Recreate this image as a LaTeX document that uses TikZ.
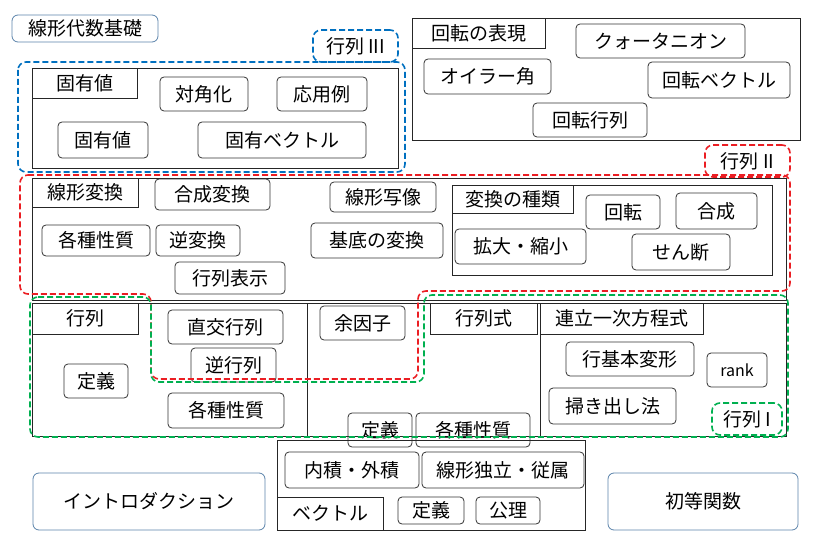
\documentclass[tikz,border=0pt]{standalone}
\usepackage{fontspec}
\setmainfont{Noto Sans CJK JP}
\definecolor{bdc}{RGB}{0,112,192}
\definecolor{tpc}{RGB}{90,130,170}
\definecolor{rdc}{RGB}{235,30,35}
\definecolor{gdc}{RGB}{0,176,80}
\begin{document}
\begin{tikzpicture}[x=1pt,y=-1pt,
  fnt/.style={font=\fontsize{19}{19}\selectfont},
  box/.style={fnt,draw=black!80,rounded corners=4pt,line width=0.8pt,inner sep=0pt},
  tab/.style={fnt,draw=black!85,line width=0.8pt,inner sep=0pt},
  frame/.style={draw=black!85,line width=0.8pt},
  topic/.style={fnt,draw=tpc,rounded corners=6pt,line width=0.8pt,inner sep=0pt},
  dsh/.style={fnt,dash pattern=on 6pt off 3pt,line width=1.6pt,rounded corners=8pt,inner sep=0pt},
  bd/.style={dsh,draw=bdc},
  rd/.style={dsh,draw=rdc},
  gd/.style={dsh,draw=gdc}]
\useasboundingbox (0,0) rectangle (813,548);
\def\bx#1#2#3#4#5#6{\node[#1,minimum width=#4-#2,minimum height=#5-#3] (#6) at ({(#2+#4)/2},{(#3+#5)/2})}
% top left
\bx{topic}{12}{15}{158}{42}{t0}{線形代数基礎};
% eigen
\draw[frame] (32,68) rectangle (398,168);
\bx{tab}{32}{68}{137}{98}{e0}{固有値};
\bx{box}{160}{77}{248}{111}{e1}{対角化};
\bx{box}{277}{77}{367}{111}{e2}{応用例};
\bx{box}{58}{122}{148}{158}{e3}{固有値};
\bx{box}{198}{122}{366}{158}{e4}{固有ベクトル};
\draw[bd] (18,62) rectangle (405,172);
\bx{bd}{313}{30}{398}{62}{m3}{行列 III};
% rotation
\draw[frame] (412,18) rectangle (800,140);
\bx{tab}{412}{18}{545}{48}{r0}{回転の表現};
\bx{box}{576}{24}{745}{58}{r1}{クォータニオン};
\bx{box}{424}{59}{551}{94}{r2}{オイラー角};
\bx{box}{648}{62}{790}{98}{r3}{回転ベクトル};
\bx{box}{533}{103}{647}{137}{r4}{回転行列};
% linear transform
\draw[frame] (32,178) rectangle (786,300);
\bx{tab}{32}{178}{138}{207}{l0}{線形変換};
\bx{box}{155}{179}{270}{210}{l1}{合成変換};
\bx{box}{330}{182}{436}{212}{l2}{線形写像};
\bx{box}{42}{225}{150}{256}{l3}{各種性質};
\bx{box}{156}{225}{240}{256}{l4}{逆変換};
\bx{box}{311}{223}{443}{258}{l5}{基底の変換};
\bx{box}{175}{262}{285}{294}{l6}{行列表示};
\draw[frame] (452,185) rectangle (772,275);
\bx{tab}{452}{185}{573}{213}{k0}{変換の種類};
\bx{box}{586}{195}{660}{229}{k1}{回転};
\bx{box}{676}{193}{757}{229}{k2}{合成};
\bx{box}{455}{229}{586}{264}{k3}{拡大・縮小};
\bx{box}{632}{234}{730}{270}{k4}{せん断};
% matrices row
\draw[frame] (32,303) rectangle (786,436);
\draw[frame] (307,303) -- (307,436);
\draw[frame] (540,303) -- (540,436);
\bx{tab}{32}{303}{138}{334}{a0}{行列};
\bx{box}{168}{310}{283}{344}{a1}{直交行列};
\bx{box}{191}{348}{276}{382}{a2}{逆行列};
\bx{box}{64}{364}{128}{398}{a3}{定義};
\bx{box}{168}{393}{284}{428}{a4}{各種性質};
\bx{box}{320}{306}{405}{340}{c0}{余因子};
\bx{tab}{430}{303}{537}{334}{d0}{行列式};
\bx{tab}{540}{303}{703}{334}{s0}{連立一次方程式};
\bx{box}{566}{342}{694}{376}{s1}{行基本変形};
\node[box,font=\fontsize{16}{16}\selectfont,minimum width=60,minimum height=34] (s2) at (737,370) {rank};
\bx{box}{549}{388}{676}{424}{s3}{掃き出し法};
\bx{box}{348}{413}{412}{447}{d1}{定義};
\bx{box}{416}{413}{530}{447}{d2}{各種性質};
% red dashed
\draw[rd] (20,175) -- (790,175) -- (790,291) -- (418,291) -- (418,379) -- (151,379) -- (151,294) -- (20,294) -- cycle;
\bx{rd}{705}{145}{790}{177}{m2}{行列 II};
% green dashed
\draw[gd] (30,297) -- (151,297) -- (151,382) -- (424,382) -- (424,295) -- (788,295) -- (788,437) -- (30,437) -- cycle;
\bx{gd}{712}{403}{782}{435}{m1}{行列 I};
% vectors
\draw[frame] (277,440) rectangle (585,530);
\bx{box}{285}{452}{419}{488}{v1}{内積・外積};
\bx{box}{422}{452}{584}{488}{v2}{線形独立・従属};
\bx{tab}{277}{497}{383}{530}{v0}{ベクトル};
\bx{box}{398}{497}{464}{524}{v3}{定義};
\bx{box}{476}{497}{540}{524}{v4}{公理};
\bx{topic}{33}{473}{265}{530}{t1}{イントロダクション};
\bx{topic}{608}{473}{798}{530}{t2}{初等関数};
\end{tikzpicture}
\end{document}
